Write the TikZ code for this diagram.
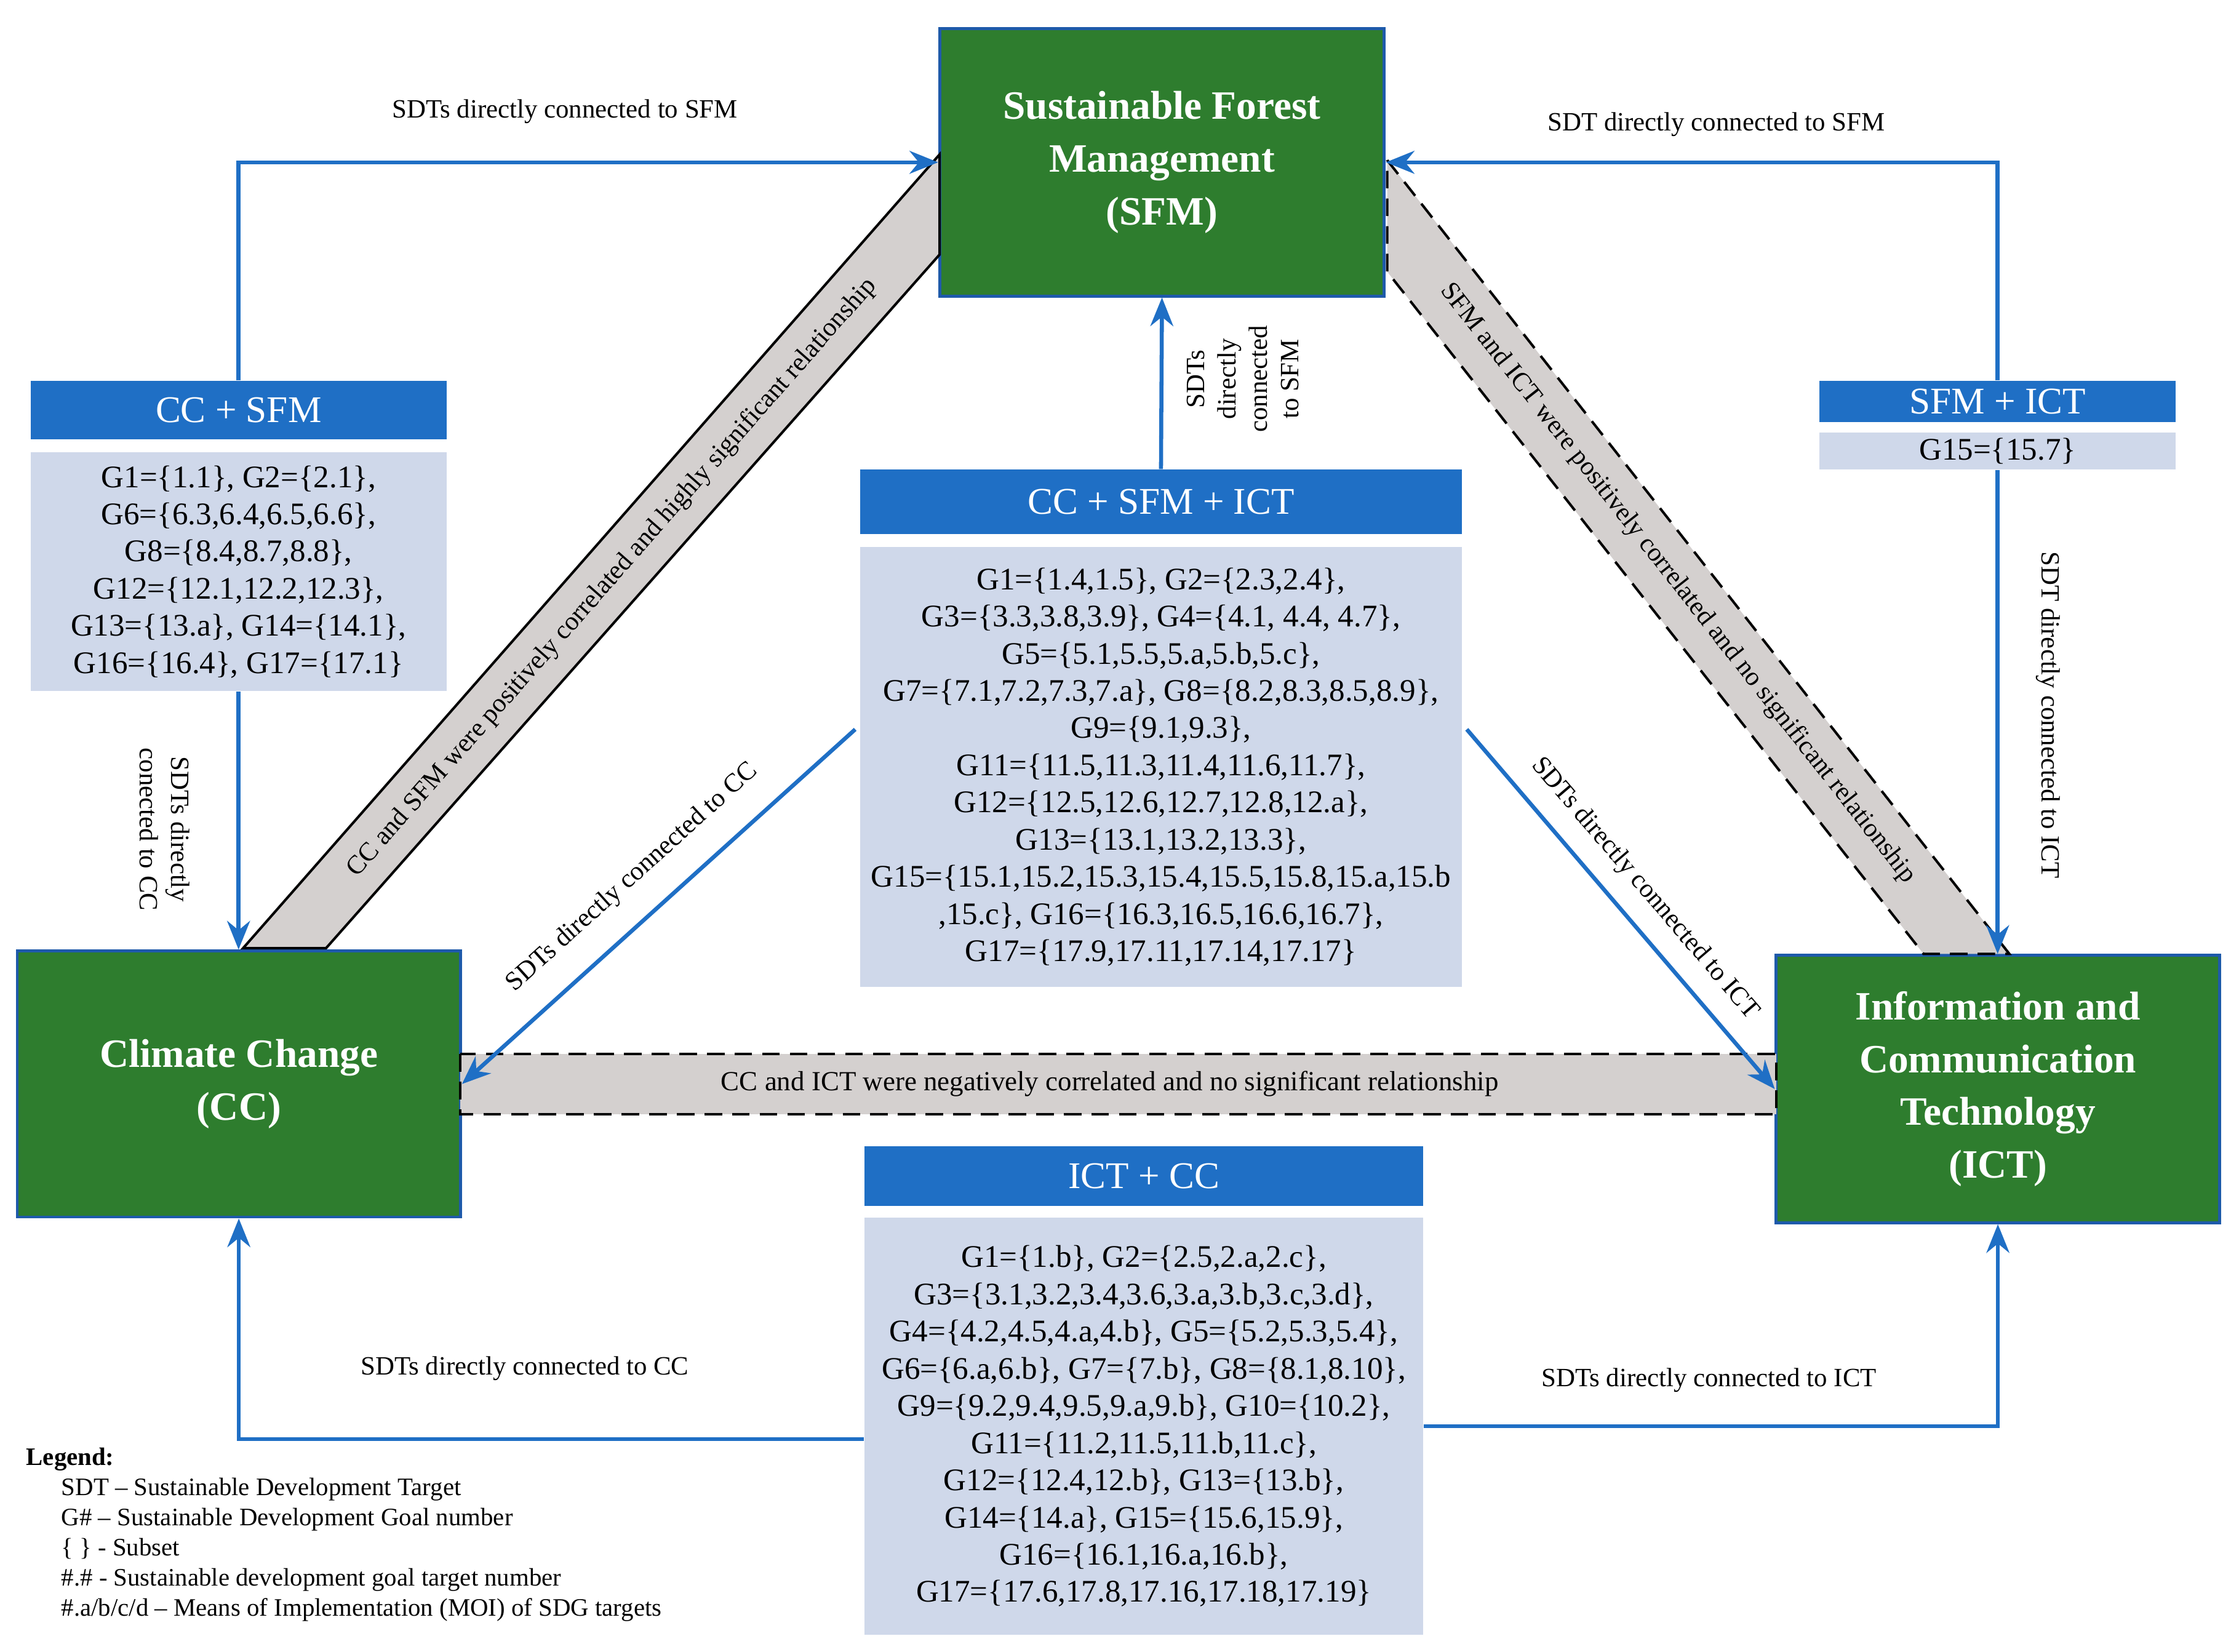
\documentclass[tikz,border=0pt]{standalone}
\usepackage{fontspec}
\setmainfont{Liberation Serif}
\usetikzlibrary{arrows.meta,positioning,calc}
\definecolor{boxgreen}{RGB}{46,125,46}
\definecolor{edgeblue}{RGB}{30,90,170}
\definecolor{headblue}{RGB}{31,111,197}
\definecolor{bodyblue}{RGB}{207,216,234}
\definecolor{bandgray}{RGB}{212,208,207}
\tikzset{
  topic/.style={draw=edgeblue, line width=1.2pt, fill=boxgreen, text=white, align=center,
    font=\fontsize{16}{21}\selectfont\bfseries, inner sep=0pt},
  head/.style={fill=headblue, text=white, font=\fontsize{15}{18}\selectfont, inner sep=0pt, anchor=north west},
  body/.style={fill=bodyblue, align=center, font=\fontsize{12.5}{14.8}\selectfont, inner sep=0pt, anchor=north west},
  conn/.style={draw=headblue, line width=1.6pt, -{Stealth[length=4mm,width=3.2mm]}},
  lbl/.style={font=\fontsize{10.5}{12.5}\selectfont, align=center, inner sep=1pt},
  band/.style={fill=bandgray, draw=black, line width=1pt},
  dashband/.style={band, dash pattern=on 7pt off 4pt},
}
\begin{document}
\begin{tikzpicture}[x=0.02cm, y=-0.02cm]
\useasboundingbox (0,0) rectangle (1560,1155);
% main topics
\node[topic, minimum width=6.22cm, minimum height=3.74cm] (sfm) at (812.5,113.5) {Sustainable Forest\\Management\\(SFM)};
\node[topic, minimum width=6.2cm, minimum height=3.72cm] (cc) at (167,758) {Climate Change\\(CC)};
\node[topic, minimum width=6.2cm, minimum height=3.74cm] (ict) at (1397,761.5) {Information and\\Communication\\Technology\\(ICT)};

% relationship bands
\filldraw[band] (170,663) -- (228,663) -- (657,178) -- (657,108) -- cycle;
\node[lbl, rotate=48.7] (bandl) at (428,404) {CC and SFM were positively correlated and highly significant relationship};
\filldraw[dashband] (970,112) -- (1405,667) -- (1345,667) -- (970,190) -- cycle;
\node[lbl, rotate=-51.9] (bandr) at (1173,408) {SFM and ICT were positively correlated and no significant relationship};
\filldraw[dashband] (322,737) rectangle (1242,779);
\node[lbl, font=\fontsize{11}{13}\selectfont] (bandh) at (776,758) {CC and ICT were negatively correlated and no significant relationship};

% subset boxes
\node[head, minimum width=5.82cm, minimum height=0.82cm] (ccsfmH) at (21,266) {CC + SFM};
\node[body, minimum width=5.82cm, minimum height=3.34cm] (ccsfmB) at (21,316) {G1=\{1.1\}, G2=\{2.1\},\\G6=\{6.3,6.4,6.5,6.6\},\\G8=\{8.4,8.7,8.8\},\\G12=\{12.1,12.2,12.3\},\\G13=\{13.a\}, G14=\{14.1\},\\G16=\{16.4\}, G17=\{17.1\}};
\node[head, minimum width=4.98cm, minimum height=0.58cm] (sfmictH) at (1272,266) {SFM + ICT};
\node[body, minimum width=4.98cm, minimum height=0.52cm] (sfmictB) at (1272,302) {G15=\{15.7\}};
\node[head, minimum width=8.42cm, minimum height=0.9cm] (cccH) at (601,328) {CC + SFM + ICT};
\node[body, minimum width=8.42cm, minimum height=6.16cm] (cccB) at (601,382) {G1=\{1.4,1.5\}, G2=\{2.3,2.4\},\\G3=\{3.3,3.8,3.9\}, G4=\{4.1, 4.4, 4.7\},\\G5=\{5.1,5.5,5.a,5.b,5.c\},\\G7=\{7.1,7.2,7.3,7.a\}, G8=\{8.2,8.3,8.5,8.9\},\\G9=\{9.1,9.3\},\\G11=\{11.5,11.3,11.4,11.6,11.7\},\\G12=\{12.5,12.6,12.7,12.8,12.a\},\\G13=\{13.1,13.2,13.3\},\\G15=\{15.1,15.2,15.3,15.4,15.5,15.8,15.a,15.b\\,15.c\}, G16=\{16.3,16.5,16.6,16.7\},\\G17=\{17.9,17.11,17.14,17.17\}};
\node[head, minimum width=7.82cm, minimum height=0.84cm] (ictccH) at (604,801) {ICT + CC};
\node[body, minimum width=7.82cm, minimum height=5.84cm] (ictccB) at (604,851) {G1=\{1.b\}, G2=\{2.5,2.a,2.c\},\\G3=\{3.1,3.2,3.4,3.6,3.a,3.b,3.c,3.d\},\\G4=\{4.2,4.5,4.a,4.b\}, G5=\{5.2,5.3,5.4\},\\G6=\{6.a,6.b\}, G7=\{7.b\}, G8=\{8.1,8.10\},\\G9=\{9.2,9.4,9.5,9.a,9.b\}, G10=\{10.2\},\\G11=\{11.2,11.5,11.b,11.c\},\\G12=\{12.4,12.b\}, G13=\{13.b\},\\G14=\{14.a\}, G15=\{15.6,15.9\},\\G16=\{16.1,16.a,16.b\},\\G17=\{17.6,17.8,17.16,17.18,17.19\}};

% connectors
\draw[conn] (ccsfmH.north) |- (sfm.west);
\draw[conn] (ccsfmB.south) -- (ccsfmB.south|-cc.north);
\draw[conn] (sfmictH.north) |- (sfm.east);
\draw[conn] (sfmictB.south) -- (sfmictB.south|-ict.north);
\draw[conn] (cccH.north) -- (sfm.south);
\draw[conn] ($(cccB.north west)+(-3,128)$) -- (cc.east) node[lbl, midway, sloped, above=9pt] {SDTs directly connected to CC};
\draw[conn] ($(cccB.north east)+(3,128)$) -- (ict.west) node[lbl, midway, sloped, above=6pt] {SDTs directly connected to ICT};
\draw[conn] ([yshift=-0.18cm]ictccB.west) -| (cc.south);
\draw[conn] (ictccB.east) -| (ict.south);

% connector labels
\node[lbl] (l1) at (395,78) {SDTs directly connected to SFM};
\node[lbl] (l2) at (1200,87) {SDT directly connected to SFM};
\node[lbl, rotate=-90] (l3) at (115,580) {SDTs directly\\conected to CC};
\node[lbl, rotate=-90] (l4) at (1432,500) {SDT directly connected  to ICT};
\node[lbl, rotate=90] (l5) at (869,265) {SDTs\\directly\\connected\\to SFM};
\node[lbl] (l6) at (367,957) {SDTs directly connected to CC};
\node[lbl] (l7) at (1195,965) {SDTs directly connected to ICT};

% legend
\node[anchor=north west, align=left, font=\fontsize{10}{12}\selectfont, inner sep=0pt] (legend) at (18,1012)
  {\textbf{Legend:}\\
   \hspace*{1.4em}SDT -- Sustainable Development Target\\
   \hspace*{1.4em}G\# -- Sustainable Development Goal number\\
   \hspace*{1.4em}\{ \} - Subset\\
   \hspace*{1.4em}\#.\# - Sustainable development goal target number\\
   \hspace*{1.4em}\#.a/b/c/d -- Means of Implementation (MOI) of SDG targets};
\end{tikzpicture}
\end{document}
